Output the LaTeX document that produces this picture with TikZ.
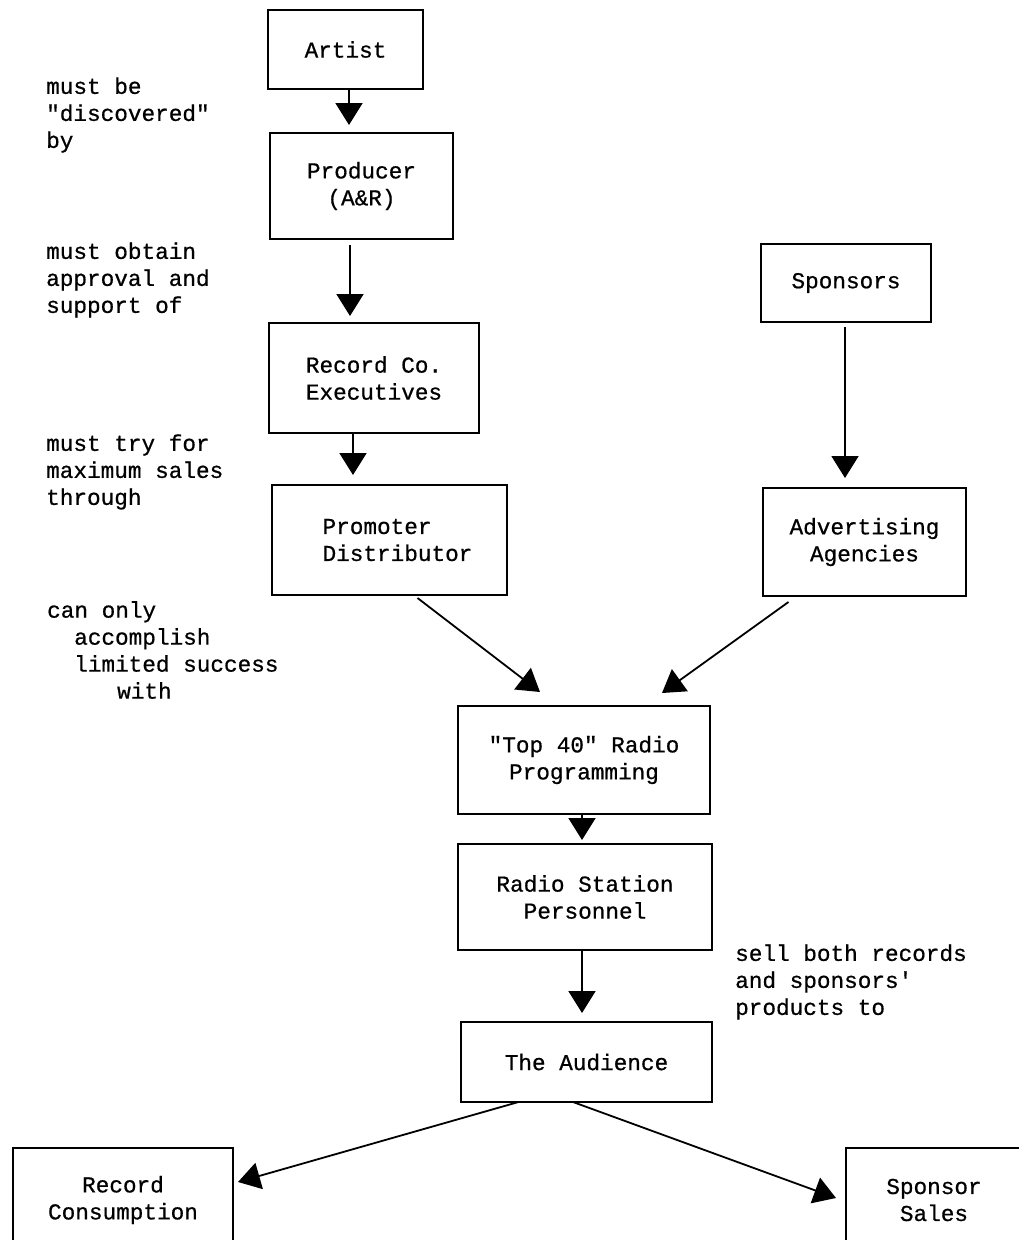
\documentclass[tikz,border=0pt]{standalone}
\usepackage{fontspec}
\newfontfamily\twfont{Liberation Mono}[FakeBold=0.7]
\usetikzlibrary{arrows.meta}
\begin{document}
\begin{tikzpicture}[x=1pt,y=-1pt,
  every node/.style={font=\twfont\fontsize{22.7pt}{27pt}\selectfont},
  box/.style={draw, line width=1.8pt, inner sep=0pt, outer sep=0pt, align=center},
  lbl/.style={inner sep=0pt, anchor=west, align=left},
  arr/.style={line width=1.8pt, -{Triangle[width=27pt,length=22pt]}}]
\clip (0,0) rectangle (1019,1240);
\fill[white] (0,0) rectangle (1019,1240);
% boxes
\node[box, minimum width=155pt, minimum height=79pt] (artist) at (345.5,49.5) {Artist};
\node[box, minimum width=183pt, minimum height=106pt] (prod) at (361.5,186) {Producer\\(A\&R)};
\node[box, minimum width=210pt, minimum height=110pt] (rec) at (374,378) {Record Co.\\Executives};
\node[box, minimum width=235pt, minimum height=110pt, align=left] (prom) at (389.5,540) {\hspace*{16pt}Promoter\\\hspace*{16pt}Distributor};
\node[box, minimum width=170pt, minimum height=78pt] (spons) at (846,283) {Sponsors};
\node[box, minimum width=203pt, minimum height=108pt] (adv) at (864.5,542) {Advertising\\Agencies};
\node[box, minimum width=252pt, minimum height=108pt] (top) at (584,760) {"Top 40" Radio\\Programming};
\node[box, minimum width=254pt, minimum height=106pt] (radio) at (585,897) {Radio Station\\Personnel};
\node[box, minimum width=251pt, minimum height=80pt] (aud) at (586.5,1062) {The Audience};
\node[box, minimum width=220pt, minimum height=104pt] (rc) at (123,1200) {Record\\Consumption};
\node[box, minimum width=176pt, minimum height=104pt] (ss) at (934,1200) {Sponsor\\Sales};
% labels
\node[lbl] (l1) at (46,115) {must be\\"discovered"\\by};
\node[lbl] (l2) at (46,280) {must obtain\\approval and\\support of};
\node[lbl] (l3) at (46,472) {must try for\\maximum sales\\through};
\node[lbl] (l4) at (47,650) {can only\\\hspace*{27pt}accomplish\\\hspace*{27pt}limited success\\\hspace*{70pt}with};
\node[lbl] (l5) at (735,982) {sell both records\\and sponsors\symbol{39}\\products to};
% connectors
\draw[arr] ([xshift=3.5pt]artist.south) -- ([xshift=-12.5pt,yshift=8pt]prod.north);
\draw[arr] ([xshift=-11.5pt,yshift=-6pt]prod.south) -- ([xshift=-24pt,yshift=7pt]rec.north);
\draw[arr] ([xshift=-21pt]rec.south) -- ([xshift=-36.5pt,yshift=10pt]prom.north);
\draw[arr] ([xshift=-1pt,yshift=-5pt]spons.south) -- ([xshift=-19.5pt,yshift=10pt]adv.north);
\draw[arr] ([xshift=28pt,yshift=-3pt]prom.south) -- ([xshift=-44pt,yshift=14pt]top.north);
\draw[arr] ([xshift=-76pt,yshift=-6pt]adv.south) -- ([xshift=78pt,yshift=13pt]top.north);
\draw[arr] ([xshift=-2pt]top.south) -- ([xshift=-3pt,yshift=4pt]radio.north);
\draw[arr] ([xshift=-3pt]radio.south) -- ([xshift=-4.5pt,yshift=9pt]aud.north);
\draw[arr] ([xshift=-68pt]aud.south) -- ([xshift=5pt,yshift=18pt]rc.east);
\draw[arr] ([xshift=-13.5pt]aud.south) -- ([xshift=-10pt,yshift=2pt]ss.west);
\end{tikzpicture}
\end{document}
